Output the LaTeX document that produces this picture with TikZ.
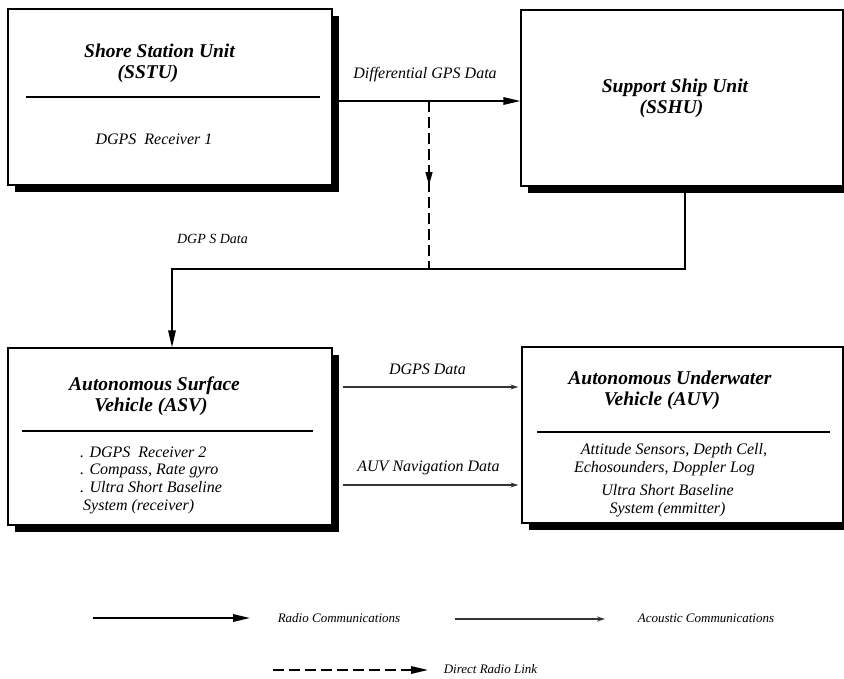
\documentclass[tikz,border=0pt]{standalone}
\usepackage{fontspec}
\setmainfont{Liberation Serif}
\usetikzlibrary{arrows.meta,shadows,decorations.markings}

\tikzset{
  unit/.style={draw, line width=1.3pt, fill=white, inner sep=0pt,
    drop shadow={shadow xshift=6.5pt, shadow yshift=-6.5pt, fill=black, opacity=1}},
  ttl/.style={anchor=base, inner sep=0pt, font=\fontsize{19.5}{22}\selectfont\bfseries\itshape},
  txt/.style={anchor=base, inner sep=0pt, font=\fontsize{16}{18}\selectfont\itshape},
  txtl/.style={txt, anchor=base west},
  key/.style={anchor=base, inner sep=0pt, font=\fontsize{13}{15}\selectfont\itshape},
  rule/.style={line width=1.2pt},
  radio/.style={line width=1.6pt, -{Triangle[length=17pt,width=7.5pt]}},
  direct/.style={line width=1.6pt, dash pattern=on 11pt off 5pt},
  acoustic/.style={line width=1.1pt, draw=black!80, -{Stealth[open,length=8pt,width=5pt]}},
}

\begin{document}
\begin{tikzpicture}[x=1pt, y=-1pt]
\path[use as bounding box] (0,0) rectangle (844,678);

% the four units
\node[unit, minimum width=324pt, minimum height=176pt] (sstu) at (170,97) {};
\node[unit, minimum width=322pt, minimum height=176pt] (sshu) at (682,98) {};
\node[unit, minimum width=324pt, minimum height=177pt] (asv) at (170,436.5) {};
\node[unit, minimum width=321pt, minimum height=176pt] (auv) at (682.5,435) {};

% shore station
\node[ttl] (sstuA) at (159.5,57) {Shore Station Unit};
\node[ttl] (sstuB) at (148,78) {(SSTU)};
\draw[rule] (26,97) -- (320,97);
\node[txt] (sstuC) at (154,144) {DGPS~ Receiver 1};

% support ship
\node[ttl] (sshuA) at (675,92) {Support Ship Unit};
\node[ttl] (sshuB) at (671.5,113) {(SSHU)};

% surface vehicle
\node[ttl] (asvA) at (154.5,390) {Autonomous Surface};
\node[ttl] (asvB) at (151,411) {Vehicle (ASV)};
\draw[rule] (22,431) -- (313,431);
\node[txtl] (asvC) at (80,457) {. DGPS~ Receiver 2};
\node[txtl] (asvD) at (80,474.5) {. Compass, Rate gyro};
\node[txtl] (asvE) at (80,492) {. Ultra Short Baseline};
\node[txtl] (asvF) at (83,510) {System (receiver)};

% underwater vehicle
\node[ttl] (auvA) at (670,384) {Autonomous Underwater};
\node[ttl] (auvB) at (662,405) {Vehicle (AUV)};
\draw[rule] (537,432) -- (830,432);
\node[txt] (auvC) at (674,454) {Attitude Sensors, Depth Cell,};
\node[txt] (auvD) at (664.5,472) {Echosounders, Doppler Log};
\node[txt] (auvE) at (667.5,495) {Ultra Short Baseline};
\node[txt] (auvF) at (667.5,513) {System (emmitter)};

% radio links
\coordinate (gpsrow) at (0,101);
\coordinate (bus) at (0,269);
\coordinate (tap) at (429,101);
\draw[radio] (sstu.east |- gpsrow) -- (sshu.west |- gpsrow);
\node[txt] (lblGPS) at (425,78) {Differential GPS Data};
\draw[direct, postaction={decorate, decoration={markings,
    mark=at position 0.5 with {\arrow{Triangle[length=13pt,width=7pt]}}}}]
  (tap) -- (tap |- bus);
\draw[radio] ([xshift=3pt]sshu.south) -- ([xshift=3pt]sshu.south |- bus)
  -| ([xshift=2pt]asv.north);
\node[txt, font=\fontsize{14}{16}\selectfont\itshape] (lblDGP) at (212.5,243) {DGP S Data};

% acoustic links
\coordinate (rowA) at (0,387);
\coordinate (rowB) at (0,485);
\draw[acoustic] ([xshift=10pt]asv.east |- rowA) -- ([xshift=-3pt]auv.west |- rowA);
\node[txt] (lblDGPS) at (427.5,374) {DGPS Data};
\draw[acoustic] ([xshift=10pt]asv.east |- rowB) -- ([xshift=-3pt]auv.west |- rowB);
\node[txt] (lblNAV) at (428.5,471) {AUV Navigation Data};

% key
\coordinate (k1a) at (93,618);
\coordinate (k1b) at (250,618);
\draw[radio] (k1a) -- (k1b);
\node[key] (k1) at (339,622) {Radio Communications};
\coordinate (k2a) at (455,619);
\coordinate (k2b) at (605,619);
\draw[acoustic] (k2a) -- (k2b);
\node[key] (k2) at (706,622) {Acoustic Communications};
\coordinate (k3a) at (273,670);
\coordinate (k3b) at (428,670);
\draw[direct, -{Triangle[length=17pt,width=7.5pt]}] (k3a) -- (k3b);
\node[key] (k3) at (490.5,673) {Direct Radio Link};
\end{tikzpicture}
\end{document}
